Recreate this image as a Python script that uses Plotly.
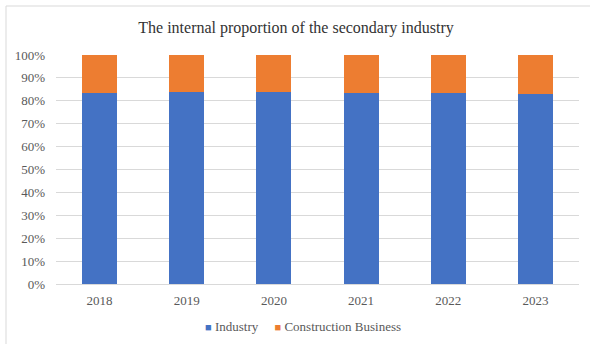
import plotly.graph_objects as go

years = ["2018", "2019", "2020", "2021", "2022", "2023"]
industry = [83.6, 83.9, 83.8, 83.5, 83.4, 83.0]
construction = [16.4, 16.1, 16.2, 16.5, 16.6, 17.0]
y_ticks = [0, 10, 20, 30, 40, 50, 60, 70, 80, 90, 100]
y_tick_text = [f"{v}%" for v in y_ticks]
series_names = ["Industry", "Construction Business"]
series_colors = ["#4472C4", "#ED7D31"]

FONT = "Liberation Serif, Times New Roman, serif"
W, H = 590, 344
L, R, T, B = 56, 11, 55, 60
pw, ph = W - L - R, H - T - B

fig = go.Figure()
for name, vals, col in zip(series_names, [industry, construction], series_colors):
    fig.add_trace(go.Bar(x=years, y=vals, name=name, marker=dict(color=col, line=dict(width=0)),
                         showlegend=False))

legend_text = "&nbsp;&nbsp;&nbsp;&nbsp;&nbsp;".join(
    f"<span style='color:{c}; font-size:11px'>■</span>&nbsp;{n}" for n, c in zip(series_names, series_colors)
)

fig.update_layout(
    width=W, height=H,
    barmode="stack", bargap=0.6,
    margin=dict(l=L, r=R, t=T, b=B, pad=0, autoexpand=False),
    paper_bgcolor="white", plot_bgcolor="white",
    font=dict(family=FONT, size=13, color="#595959"),
    title=dict(text="The internal proportion of the secondary industry", x=296 / W, xref="container",
               xanchor="center", y=1 - 27 / H, yanchor="middle",
               font=dict(family=FONT, size=16, color="#333333")),
    xaxis=dict(showgrid=False, showline=True, linecolor="#d9d9d9", linewidth=1, ticks="",
               tickfont=dict(size=13, color="#595959"), automargin=False, ticklabelstandoff=4),
    yaxis=dict(range=[0, 100], tickvals=y_ticks, ticktext=y_tick_text, showgrid=True, gridcolor="#d9d9d9",
               gridwidth=1, zeroline=False, showline=False, tickfont=dict(size=13, color="#595959"),
               ticklabelstandoff=10, automargin=False),
    showlegend=False,
    annotations=[dict(text=legend_text, xref="paper", yref="paper", x=(303 - L) / pw, y=(285 - 327) / ph,
                      xanchor="center", yanchor="middle", showarrow=False,
                      font=dict(family=FONT, size=13, color="#595959"))],
    shapes=[dict(type="rect", xref="paper", yref="paper",
                 x0=(6 - L) / pw, x1=(600 - L) / pw, y0=(285 - 360) / ph, y1=(285 - 7) / ph,
                 line=dict(color="#d9d9d9", width=1), fillcolor="rgba(0,0,0,0)", layer="below")],
)

fig.write_html("out.html")
